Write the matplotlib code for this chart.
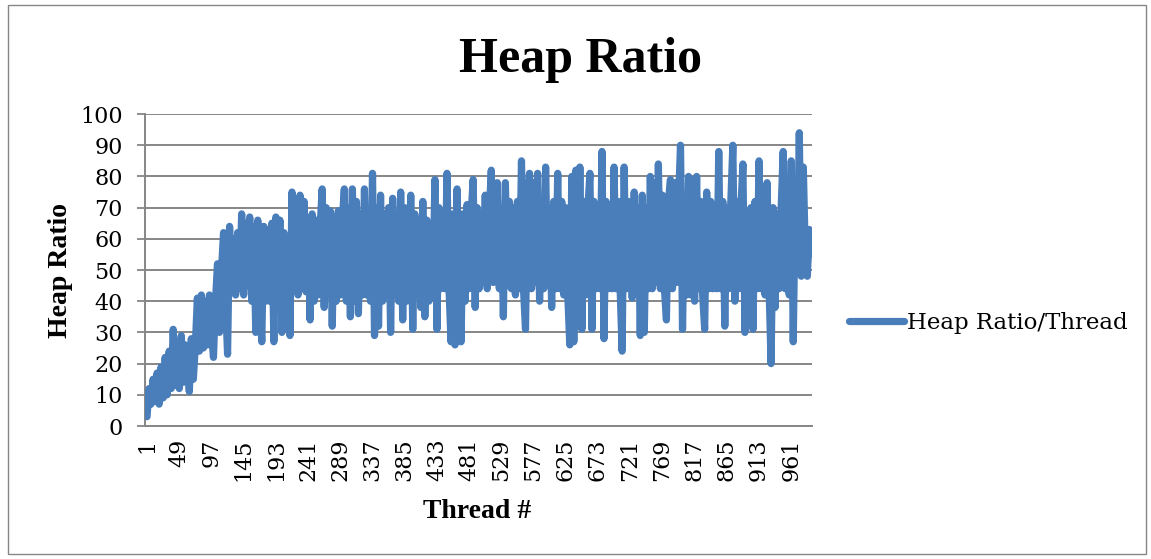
import numpy as np
import matplotlib.pyplot as plt
from matplotlib.patches import Rectangle

plt.rcParams['font.family'] = ['DejaVu Serif']
heading_font = ['Liberation Serif', 'DejaVu Serif']

# heap ratio sampled every third thread (1, 4, 7, ...)
heap_ratio = [
    3, 12, 7, 15, 8, 17, 7, 19, 9, 22,
    10, 24, 12, 31, 13, 27, 12, 29, 14, 26,
    20, 11, 28, 15, 26, 41, 24, 42, 25, 40,
    26, 42, 30, 22, 40, 52, 30, 50, 62, 40,
    23, 64, 45, 60, 42, 62, 44, 68, 42, 65,
    45, 67, 40, 64, 30, 66, 42, 27, 64, 40,
    63, 40, 65, 27, 67, 45, 66, 30, 62, 32,
    60, 29, 75, 45, 70, 42, 74, 44, 72, 43,
    66, 34, 68, 40, 66, 42, 64, 76, 38, 70,
    42, 69, 32, 67, 40, 69, 42, 66, 76, 40,
    70, 35, 76, 40, 72, 36, 68, 42, 76, 42,
    68, 40, 81, 29, 70, 32, 74, 40, 68, 42,
    70, 30, 73, 42, 68, 40, 75, 34, 70, 40,
    42, 74, 31, 68, 42, 66, 38, 72, 35, 66,
    40, 64, 44, 79, 31, 70, 44, 68, 44, 81,
    44, 27, 68, 26, 76, 44, 27, 68, 40, 71,
    44, 68, 79, 38, 70, 44, 68, 46, 74, 44,
    68, 82, 46, 72, 78, 44, 70, 35, 78, 45,
    72, 44, 70, 42, 72, 44, 85, 44, 31, 72,
    81, 44, 78, 46, 81, 40, 72, 44, 83, 45,
    70, 38, 72, 44, 81, 44, 72, 42, 70, 42,
    26, 80, 27, 82, 32, 83, 31, 72, 42, 70,
    81, 31, 72, 44, 70, 44, 88, 28, 72, 44,
    70, 44, 83, 44, 72, 44, 24, 83, 44, 72,
    68, 41, 75, 44, 70, 29, 74, 30, 70, 44,
    80, 44, 78, 46, 84, 44, 74, 44, 34, 72,
    79, 44, 78, 46, 72, 90, 31, 70, 42, 80,
    42, 79, 40, 80, 44, 72, 42, 31, 75, 44,
    72, 44, 70, 44, 88, 44, 72, 32, 70, 44,
    72, 90, 40, 72, 44, 70, 84, 30, 68, 42,
    70, 31, 72, 44, 85, 44, 72, 42, 78, 44,
    20, 70, 38, 68, 44, 70, 88, 44, 72, 42,
    85, 27, 72, 50, 94, 48, 83, 55, 48, 63,
    55,
]
threads = np.arange(1, 3 * len(heap_ratio), 3)
tick_threads = np.arange(1, 962, 48)

fig = plt.figure(figsize=(11.51, 5.59), dpi=100)
ax = fig.add_axes([0.126, 0.2379, 0.5795, 0.5581])

ax.plot(threads, heap_ratio, color='#4a7ebb', lw=5.2,
        solid_capstyle='round', solid_joinstyle='round',
        label='Heap Ratio/Thread', zorder=3)

ax.set_xlim(-2, 992)
ax.set_ylim(0, 100)
ax.set_yticks(np.arange(0, 101, 10))
ax.set_xticks(tick_threads)
ax.set_xticklabels([str(t) for t in tick_threads], rotation=90)
ax.tick_params(axis='x', length=0, pad=9, labelsize=16)
ax.tick_params(axis='y', length=6, width=1.3, color='#868686', pad=10, labelsize=16)

ax.grid(axis='y', color='#868686', lw=1.4)
ax.set_axisbelow(True)
for side in ['top', 'right']:
    ax.spines[side].set_visible(False)
for side in ['left', 'bottom']:
    ax.spines[side].set_color('#868686')
    ax.spines[side].set_linewidth(1.4)

fig.text(0.504, 1 - 72 / 559, 'Heap Ratio', ha='center', va='baseline',
         fontsize=36, fontweight='bold', family=heading_font)
ax.set_xlabel('Thread #', fontsize=20, fontweight='bold', family=heading_font)
ax.set_ylabel('Heap Ratio', fontsize=20, fontweight='bold', family=heading_font)
ax.xaxis.set_label_coords(0.498, -0.235)
ax.yaxis.set_label_coords(-0.108, 0.5)

ax.legend(loc='center left', bbox_to_anchor=(1.025, 0.33), frameon=False,
          fontsize=16.5, handlelength=2.4, handletextpad=0.12)

fig.patches.append(Rectangle((8 / 1151, 5 / 559), 1138 / 1151, 549 / 559,
                             transform=fig.transFigure, fill=False,
                             edgecolor='#868686', lw=1))

fig.savefig('out.png', dpi=100)
